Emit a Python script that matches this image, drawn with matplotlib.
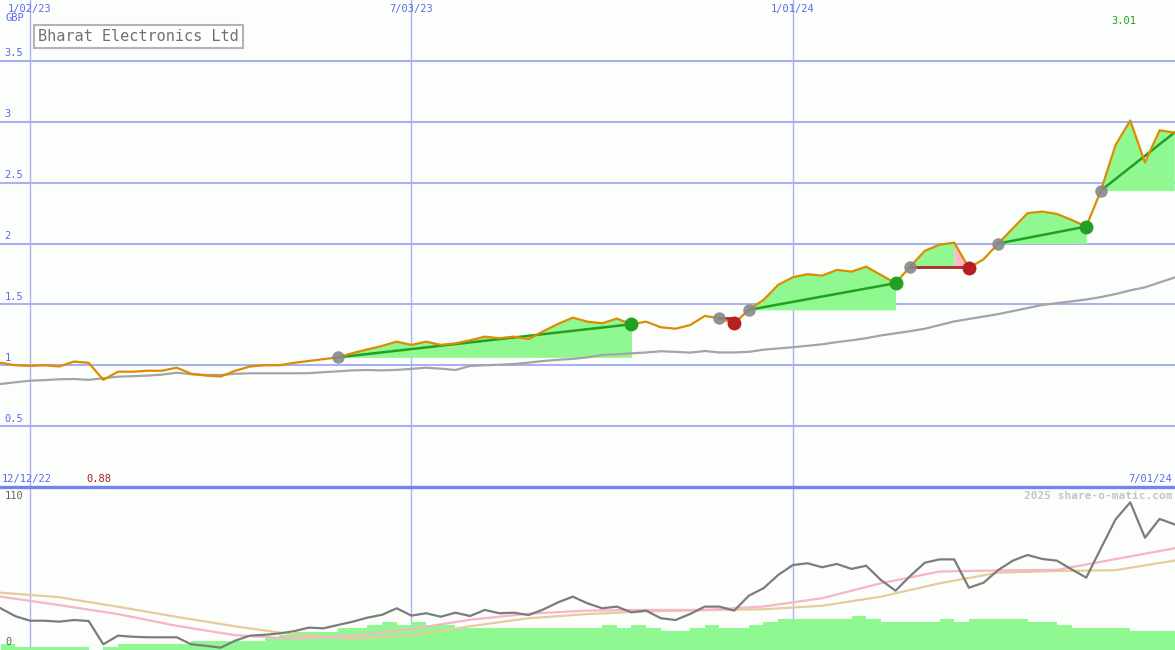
import numpy as np
import pandas as pd
import matplotlib
matplotlib.use('Agg')
import matplotlib.pyplot as plt
import matplotlib.dates as mdates
import matplotlib.transforms as mtransforms

# weekly data, 19 Dec 2022 .. 1 Jul 2024
weeks = pd.date_range('2022-12-19', '2024-07-01', freq='7D')

price = [1.02, 1.00, 0.995, 1.00, 0.99, 1.03, 1.02, 0.88, 0.947, 0.947,
         0.955, 0.955, 0.98, 0.93, 0.915, 0.907, 0.955, 0.99, 1.00, 1.00,
         1.02, 1.035, 1.05, 1.065, 1.10, 1.13, 1.159, 1.194, 1.167, 1.194,
         1.167, 1.18, 1.205, 1.235, 1.222, 1.235, 1.216, 1.28, 1.34, 1.391,
         1.358, 1.345, 1.383, 1.337, 1.358, 1.312, 1.30, 1.33, 1.405, 1.386,
         1.345, 1.455, 1.537, 1.66, 1.723, 1.748, 1.736, 1.783, 1.769, 1.81,
         1.742, 1.674, 1.81, 1.94, 1.99, 2.007, 1.80, 1.87, 2.0, 2.125,
         2.249, 2.262, 2.243, 2.194, 2.139, 2.435, 2.81, 3.01, 2.665, 2.93, 2.91]

price_avg = [0.846, 0.86, 0.873, 0.878, 0.885, 0.887, 0.88, 0.893, 0.906, 0.91,
             0.915, 0.923, 0.939, 0.926, 0.92, 0.92, 0.93, 0.934, 0.934, 0.934,
             0.934, 0.935, 0.943, 0.95, 0.958, 0.961, 0.958, 0.962, 0.97, 0.98,
             0.972, 0.961, 0.994, 1.0, 1.004, 1.01, 1.022, 1.035, 1.045, 1.052,
             1.065, 1.085, 1.09, 1.098, 1.105, 1.115, 1.11, 1.104, 1.117, 1.105,
             1.105, 1.11, 1.128, 1.138, 1.148, 1.16, 1.172, 1.19, 1.205, 1.222,
             1.245, 1.262, 1.28, 1.30, 1.33, 1.36, 1.38, 1.40, 1.42, 1.445,
             1.47, 1.495, 1.51, 1.525, 1.54, 1.56, 1.585, 1.615, 1.64, 1.68, 1.72]

osc = [30.2, 24.5, 21.2, 21.2, 20.5, 21.7, 21.0, 4.1, 10.4, 9.6,
       9.2, 9.2, 9.2, 4.1, 3.0, 1.7, 6.8, 10.4, 11.0, 12.0,
       13.6, 16.2, 15.7, 18.1, 20.5, 23.4, 25.5, 30.2, 24.9, 26.6,
       24.1, 27.0, 24.6, 29.0, 26.6, 27.0, 25.3, 29.4, 34.5, 38.6,
       33.8, 30.2, 31.4, 27.3, 28.5, 23.0, 21.7, 26.1, 31.4, 31.4,
       28.5, 39.3, 44.7, 54.3, 61.5, 62.8, 59.9, 62.3, 58.7, 61.0,
       50.7, 42.9, 53.6, 63.2, 65.6, 65.6, 45.1, 48.7, 57.9, 64.7,
       68.8, 65.9, 64.7, 58.4, 52.4, 73.6, 94.6, 106.9, 81.3, 94.9, 91.0]

# every 4th week
osc_fast = [38.6, 32.5, 26.0, 17.5, 10.7, 8.2, 10.3, 15.2, 21.9, 26.3, 28.5,
            29.0, 29.0, 31.5, 37.5, 48.3, 56.8, 57.6, 58.0, 65.8, 73.6]
osc_slow = [41.5, 38.2, 31.3, 24.0, 17.1, 11.2, 8.2, 10.5, 17.2, 23.0, 26.0,
            28.0, 28.8, 29.5, 32.0, 38.6, 48.3, 56.0, 57.2, 57.8, 64.7]

volume = [4.3, 2.0, 2.0, 2.0, 2.0, 2.0, 0.0, 2.0, 4.3, 4.3,
          4.3, 4.3, 4.3, 6.5, 6.5, 6.5, 6.5, 6.5, 8.9, 10.9,
          13.3, 13.3, 13.3, 15.7, 15.7, 18.1, 20.3, 18.1, 20.3, 18.1,
          18.1, 15.9, 15.9, 15.9, 15.9, 15.9, 15.9, 15.9, 15.9, 15.9,
          15.9, 18.1, 15.9, 18.1, 15.9, 13.8, 13.8, 15.9, 18.1, 15.9,
          15.9, 18.1, 20.3, 22.4, 22.4, 22.4, 22.4, 22.4, 24.6, 22.4,
          20.5, 20.5, 20.5, 20.5, 22.4, 20.5, 22.4, 22.4, 22.4, 22.4,
          20.5, 20.5, 18.1, 16.2, 16.2, 16.2, 16.2, 13.8, 13.8, 13.8, 13.8]

entry_idx = [23, 49, 51, 62, 68, 75]
exit_idx = [43, 50, 61, 66, 74, 80]
trade_closed = [True, True, True, True, True, False]

grid_dates = ['2023-01-02', '2023-07-03', '2024-01-01']
grid_labels = ['1/02/23', '7/03/23', '1/01/24']
price_ticks = [0.5, 1, 1.5, 2, 2.5, 3, 3.5]
price_tick_labels = ['0.5', '1', '1.5', '2', '2.5', '3', '3.5']

bg = '#fcfefc'
blue_txt = '#5a6ae8'
grid_c = '#a8b2f0'
green_fill = '#90f890'
pink_fill = '#ffb8cc'
mono = 'DejaVu Sans Mono'

x = mdates.date2num(weeks.to_pydatetime())
p = np.array(price)
gx = mdates.date2num(pd.to_datetime(grid_dates).to_pydatetime())
x0, x1 = x[0] - 0.3, x[-1] + 0.35

fig = plt.figure(figsize=(11.75, 6.5), dpi=100, facecolor=bg)
ax = fig.add_axes([0, 1 - 487 / 650, 1, 487 / 650], facecolor=bg)
ax2 = fig.add_axes([0, 0, 1, 1 - 487 / 650], facecolor=bg)
ax.set_zorder(3)

for a in (ax, ax2):
    a.set_xlim(x0, x1)
    for s in a.spines.values():
        s.set_visible(False)
    a.set_xticks([])
    a.set_yticks([])
    for g in gx:
        a.axvline(g, color=grid_c, lw=1.0, zorder=0)

ax.set_ylim(0, 4.0)
ax2.set_ylim(0, 118)

# price panel
ytrans = mtransforms.blended_transform_factory(ax.transAxes, ax.transData)
for t, lab in zip(price_ticks, price_tick_labels):
    ax.axhline(t, color=grid_c, lw=1.5, zorder=0)
    ax.text(0.004, t + 0.02, lab, transform=ytrans, color=blue_txt,
            fontsize=7.5, family=mono, ha='left', va='bottom')

ax.plot(x, price_avg, color='#a4a4a4', lw=1.6, zorder=2)

for a_i, b_i, closed in zip(entry_idx, exit_idx, trade_closed):
    base = p[a_i]
    loss = closed and p[b_i] < base
    if loss:
        ax.fill_between(x[a_i:b_i], p[a_i:b_i], base, where=p[a_i:b_i] >= base,
                        interpolate=True, color=green_fill, lw=0, zorder=1)
        ax.fill_between(x[b_i - 1:b_i + 1], p[b_i - 1:b_i + 1], base,
                        color=pink_fill, lw=0, zorder=1)
        ax.plot([x[a_i], x[b_i]], [base, base], color='#b02828', lw=2, zorder=3)
    else:
        ax.fill_between(x[a_i:b_i + 1], p[a_i:b_i + 1], base, where=p[a_i:b_i + 1] >= base,
                        interpolate=True, color=green_fill, lw=0, zorder=1)
        ax.plot([x[a_i], x[b_i]], [base, p[b_i]], color='#22a022', lw=1.8, zorder=3)

ax.plot(x, p, color='#dc8c00', lw=1.6, zorder=4)

for a_i, b_i, closed in zip(entry_idx, exit_idx, trade_closed):
    ax.plot(x[a_i], p[a_i], 'o', ms=9, color='#888888', alpha=0.9, mec='none', zorder=5)
    if closed:
        c = '#b82020' if p[b_i] < p[a_i] else '#22a022'
        ax.plot(x[b_i], p[b_i], 'o', ms=10, color=c, mec='none', zorder=5)

ax.axhline(0, color='#7284f0', lw=2.4, zorder=6, clip_on=False)

imax = int(np.argmax(p))
imin = int(np.argmin(p))
ax.text(x[imax] - 3, 3.83, f'{p[imax]:.2f}', color='#22a022', fontsize=7.5,
        family=mono, ha='center', va='center')

for g, lab in zip(gx, grid_labels):
    ax.text(g, 3.93, lab, color=blue_txt, fontsize=7.5, family=mono,
            ha='center', va='center')
fig.text(5 / 1175, 1 - 18 / 650, 'GBP', color=blue_txt, fontsize=7.5,
         family=mono, ha='left', va='center')

fig.text(38 / 1175, 1 - 36.5 / 650, 'Bharat Electronics Ltd', color='#707070',
         fontsize=11, family=mono, ha='left', va='center',
         bbox=dict(boxstyle='square,pad=0.25', fc='white', ec='#b4b4b4', lw=1.5))

# lower panel
ax2.bar(x, volume, width=7, align='edge', color=green_fill, lw=0, zorder=1)
ax2.plot(x[::4], osc_slow, color='#e4cc9c', lw=1.6, zorder=2)
ax2.plot(x[::4], osc_fast, color='#f8b4c8', lw=1.6, zorder=2)
ax2.plot(x, osc, color='#7c7c7c', lw=1.6, zorder=3)

lbl_trans = mtransforms.blended_transform_factory(ax.transData, fig.transFigure)
fig.text(2 / 1175, 1 - 479 / 650, '12/12/22', color=blue_txt, fontsize=7.5,
         family=mono, ha='left', va='center')
fig.text(x[imin] - 2, 1 - 479 / 650, f'{p[imin]:.2f}', color='#a02020', fontsize=7.5,
         family=mono, ha='center', va='center', transform=lbl_trans)
fig.text(1172 / 1175, 1 - 479 / 650, '7/01/24', color=blue_txt, fontsize=7.5,
         family=mono, ha='right', va='center')
fig.text(1172 / 1175, 1 - 496 / 650, '2025 share-o-matic.com', color='#c4c4c4',
         fontsize=8, family=mono, weight='bold', ha='right', va='center')
fig.text(5 / 1175, 1 - 496 / 650, '110', color='#606060', fontsize=7.5,
         family=mono, ha='left', va='center')
fig.text(5 / 1175, 1 - 642 / 650, '0', color='#606060', fontsize=7.5,
         family=mono, ha='left', va='center')

plt.savefig('out.png', dpi=100, facecolor=bg)
